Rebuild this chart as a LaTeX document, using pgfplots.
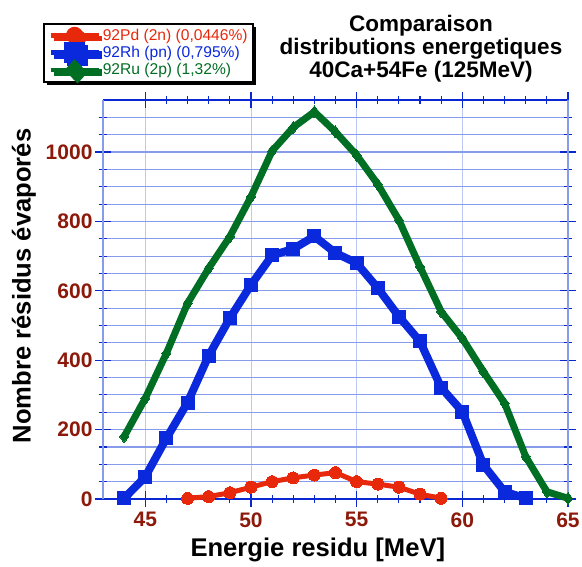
\documentclass[border=0pt]{standalone}
\usepackage{fontspec}
\setmainfont{Liberation Sans}
\usepackage{pgfplots}
\pgfplotsset{compat=1.18}
\usetikzlibrary{shadows}

\definecolor{pdred}{RGB}{232,40,10}
\definecolor{rhblue}{RGB}{10,40,220}
\definecolor{rugreen}{RGB}{0,110,35}
\definecolor{ticklab}{RGB}{140,25,10}
\definecolor{gridlight}{RGB}{135,155,235}
\definecolor{gridpale}{RGB}{190,200,245}
\definecolor{axisdark}{RGB}{10,40,210}

% Residue counts per energy bin
\pgfplotstableread{
E   N
47  2
48  7
49  18
50  34
51  50
52  61
53  69
54  76
55  50
56  43
57  34
58  14
59  2
}\pdtable
\pgfplotstableread{
E   N
44  2
45  64
46  175
47  278
48  413
49  521
50  617
51  702
52  721
53  757
54  709
55  680
56  608
57  526
58  454
59  321
60  252
61  98
62  21
63  2
}\rhtable
\pgfplotstableread{
E   N
44  180
45  290
46  420
47  564
48  665
49  756
50  871
51  1003
52  1071
53  1116
54  1058
55  991
56  907
57  804
58  669
59  540
60  463
61  367
62  276
63  122
64  21
65  2
}\rutable

\begin{document}
\begin{tikzpicture}
\path[use as bounding box] (0,0) rectangle (582pt,566pt);
\begin{axis}[
  at={(103pt,67pt)}, anchor=south west,
  scale only axis, width=465pt, height=399pt,
  xmin=43, xmax=65, ymin=0, ymax=1150,
  xtick={45,50,55,60,65}, ytick={0,200,400,600,800,1000},
  minor x tick num=4, minor ytick={50,100,...,1100},
  clip=false,
  separate axis lines,
  x axis line style={draw=axisdark, line width=1.2pt},
  y axis line style={draw=gridlight, line width=1.2pt},
  tick align=center,
  major tick length=16pt, minor tick length=8pt,
  every tick/.style={draw=axisdark, line width=1.1pt},
  xmajorgrids, ymajorgrids, yminorgrids,
  x grid style={draw=gridpale, line width=0.8pt},
  y grid style={draw=gridlight, line width=1.1pt},
  /pgf/number format/assume math mode=true,
  /pgf/number format/1000 sep={},
  tick label style={font=\fontsize{21}{25}\selectfont\bfseries, text=ticklab},
  yticklabel style={xshift=1pt},
  xticklabel style={yshift=-2pt},
  xlabel={Energie residu [MeV]},
  ylabel={Nombre résidus évaporés},
  label style={font=\fontsize{25.6}{29}\selectfont\bfseries},
  xlabel style={at={(axis description cs:0.462,0)}, anchor=center, yshift=-51pt},
  ylabel style={at={(axis description cs:-0.170,0.534)}, anchor=center},
  legend style={
    at={(axis description cs:-0.129,1.193)}, anchor=north west,
    draw=black, line width=1.6pt, fill=white,
    drop shadow={shadow xshift=3pt, shadow yshift=-3pt, fill=black, opacity=1},
    font=\fontsize{15.6}{16.5}\selectfont,
    inner xsep=4pt, inner ysep=3pt,
    nodes={inner ysep=0pt, inner xsep=1.5pt},
    row sep=-2pt,
    cells={anchor=west},
  },
]
\addplot[pdred, line width=5pt, mark=*, mark size=6pt,
  mark options={solid, line width=0pt},
  legend image code/.code={%
    \draw[pdred, line width=5.5pt] (0pt,0pt) -- (48pt,0pt);
    \fill[pdred] (24pt,0pt) circle (6pt);}]
  table[x=E, y=N] {\pdtable};
\addlegendentry{\textcolor{pdred}{92Pd (2n) (0,0446\%)}}
\addplot[rhblue, line width=8pt, mark=square*, mark size=6.5pt,
  mark options={solid, line width=0pt},
  legend image code/.code={%
    \draw[rhblue, line width=5.5pt] (0pt,0pt) -- (48pt,0pt);
    \fill[rhblue] (17.5pt,-6.5pt) rectangle (30.5pt,6.5pt);}]
  table[x=E, y=N] {\rhtable};
\addlegendentry{\textcolor{rhblue}{92Rh (pn) (0,795\%)}}
\addplot[rugreen, line width=7pt, mark=diamond*, mark size=6pt,
  mark options={solid, line width=0pt},
  legend image code/.code={%
    \draw[rugreen, line width=4.5pt] (0pt,0pt) -- (48pt,0pt);
    \fill[rugreen] (24pt,-5.5pt) -- (29pt,0pt) -- (24pt,5.5pt) -- (19pt,0pt) -- cycle;}]
  table[x=E, y=N] {\rutable};
\addlegendentry{\textcolor{rugreen}{92Ru (2p) (1,32\%)}}
\end{axis}
\node[align=center, font=\fontsize{22.5}{23}\selectfont\bfseries, inner sep=0pt]
  at (421pt,517pt) {Comparaison\\distributions energetiques\\40Ca+54Fe (125MeV)};
\end{tikzpicture}
\end{document}
